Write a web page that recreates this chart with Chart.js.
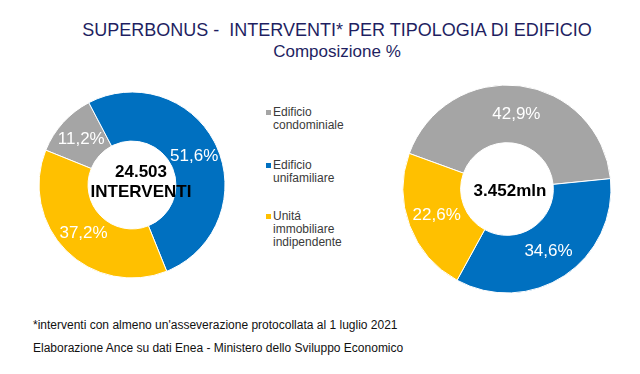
<!DOCTYPE html>
<html>
<head>
<meta charset="utf-8">
<script src="https://cdn.jsdelivr.net/npm/chart.js@4/dist/chart.umd.min.js"></script>
<style>
  html, body { margin: 0; padding: 0; background: #fff; }
  body { width: 640px; height: 374px; position: relative; overflow: hidden; font-family: Arial, "Liberation Sans", sans-serif; }
  .abs { position: absolute; }
  #title { left: 0; width: 674px; top: 20px; text-align: center; color: #1f1f62; font-size: 18px; white-space: pre; }
  #subtitle { left: 0; width: 674px; top: 42px; text-align: center; color: #1f1f62; font-size: 17px; }
  #legend { left: 265px; top: 106px; width: 130px; color: #3a3a3a; font-size: 12px; line-height: 13px; }
  .item { position: absolute; left: 0; padding-left: 8px; }
  .sw { position: absolute; left: 1px; top: 4px; width: 5px; height: 5px; }
  .foot { left: 33px; font-size: 12px; color: #111; white-space: nowrap; }
</style>
</head>
<body>
<div id="title" class="abs"></div>
<div id="subtitle" class="abs"></div>
<div class="abs" style="left:32px;top:85px;width:200px;height:200px;"><canvas id="c1"></canvas></div>
<div class="abs" style="left:392px;top:74px;width:230px;height:230px;"><canvas id="c2"></canvas></div>
<div id="legend" class="abs"></div>
<div id="f1" class="abs foot" style="top:318px;"></div>
<div id="f2" class="abs foot" style="top:341px;"></div>
<script>
// ---- data ----
const titleText = "SUPERBONUS -  INTERVENTI* PER TIPOLOGIA DI EDIFICIO";
const subtitleText = "Composizione %";
const categories = ["Edificio condominiale", "Edificio unifamiliare", "Unitá immobiliare indipendente"];
const legendLines = [["Edificio", "condominiale"], ["Edificio", "unifamiliare"], ["Unitá", "immobiliare", "indipendente"]];
const interventiShare = [11.2, 51.6, 37.2];   // % of number of interventions
const importiShare = [42.9, 34.6, 22.6];      // % of amounts
const centerLeft = ["24.503", "INTERVENTI"];
const centerRight = ["3.452mln"];
const footnote1 = "*interventi con almeno un'asseverazione protocollata al 1 luglio 2021";
const footnote2 = "Elaborazione Ance su dati Enea - Ministero dello Sviluppo Economico";

const colors = ["#A5A5A5", "#0070C0", "#FFC000"];

document.getElementById('title').textContent = titleText;
document.getElementById('subtitle').textContent = subtitleText;
document.getElementById('f1').textContent = footnote1;
document.getElementById('f2').textContent = footnote2;

// legend
const legendTops = [0, 53, 104];
const lg = document.getElementById('legend');
legendLines.forEach((lines, i) => {
  const it = document.createElement('div');
  it.className = 'item';
  it.style.top = legendTops[i] + 'px';
  const sw = document.createElement('span');
  sw.className = 'sw';
  sw.style.background = colors[i];
  it.appendChild(sw);
  lines.forEach(l => { const d = document.createElement('div'); d.textContent = l; it.appendChild(d); });
  lg.appendChild(it);
});

const labelPlugin = {
  id: 'donutLabels',
  afterDatasetsDraw(chart, args, opts) {
    const ctx = chart.ctx;
    const meta = chart.getDatasetMeta(0);
    const data = chart.data.datasets[0].data;
    ctx.save();
    ctx.textAlign = 'center';
    ctx.textBaseline = 'middle';
    ctx.fillStyle = '#ffffff';
    ctx.font = opts.pctFont;
    meta.data.forEach((arc, i) => {
      const p = arc.getCenterPoint();
      ctx.fillText(data[i].toFixed(1).replace('.', ',') + '%', p.x, p.y);
    });
    const c = meta.data[0];
    ctx.fillStyle = '#000000';
    ctx.font = 'bold 17px Arial, "Liberation Sans", sans-serif';
    const lines = opts.center;
    const lh = 20;
    lines.forEach((t, k) => {
      ctx.fillText(t, c.x + (opts.dx || 0), c.y + (k - (lines.length - 1) / 2) * lh + (opts.dy || 0));
    });
    ctx.restore();
  }
};

function makeChart(id, values, rotation, radius, cutout, center, dx, dy) {
  return new Chart(document.getElementById(id), {
    type: 'doughnut',
    data: {
      labels: categories,
      datasets: [{ data: values, backgroundColor: colors, borderColor: '#ffffff', borderWidth: 1 }]
    },
    options: {
      responsive: true,
      maintainAspectRatio: false,
      animation: false,
      rotation: rotation,
      radius: radius,
      cutout: cutout,
      layout: { padding: 0 },
      plugins: {
        legend: { display: false },
        tooltip: { enabled: false },
        donutLabels: { pctFont: '17px Arial, "Liberation Sans", sans-serif', center: center, dx: dx, dy: dy }
      }
    },
    plugins: [labelPlugin]
  });
}

makeChart('c1', interventiShare, -68, 93, 47, centerLeft, 9, -3);
makeChart('c2', importiShare, -70, 104, 51, centerRight, 3, 2);
</script>
</body>
</html>
